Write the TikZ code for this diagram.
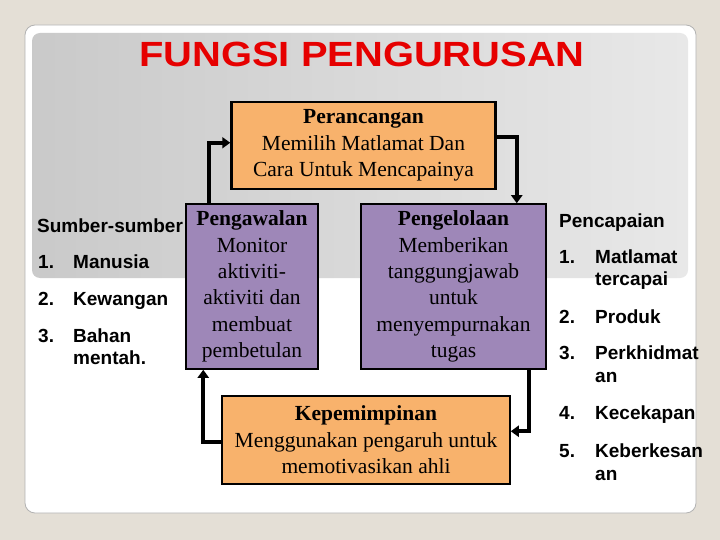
\documentclass[tikz,border=0pt]{standalone}
\usepackage{fontspec}
\setmainfont{Liberation Serif}
\setsansfont{Liberation Sans}
\usepackage{xcolor}
\usepackage{tikz}
\usetikzlibrary{arrows.meta,calc}

\definecolor{pagebeige}{HTML}{E4DFD6}
\definecolor{titlered}{HTML}{E60000}
\definecolor{boxorange}{HTML}{F8B26C}
\definecolor{boxpurple}{HTML}{9E87B8}

\tikzset{
    box/.style={draw=black, line width=1.5pt, align=center, inner sep=0pt,
        font=\fontsize{21.5}{26.4}\selectfont},
    flow/.style={line width=4pt, -{Triangle[length=8pt,width=11pt]}},
    listtext/.style={anchor=base west, inner sep=0pt,
        font=\sffamily\bfseries\fontsize{19}{22}\selectfont}
}

\begin{document}
\begin{tikzpicture}[x=1pt,y=-1pt]
        \useasboundingbox (0,0) rectangle (720,540);
        \fill[pagebeige] (0,0) rectangle (720,540);
        \filldraw[fill=white, draw=gray!60, line width=0.8pt, rounded corners=10pt] (25,25) rectangle (696,513);
        \shade[left color=black!21, right color=black!9, rounded corners=8pt] (32,33) rectangle (688,278);

        \node[text=titlered, font=\sffamily\bfseries\fontsize{35}{40}\selectfont, xscale=1.14] (title) at (362,54) {FUNGSI PENGURUSAN};

        %=== Sumber-sumber ===
        \node[listtext] (src) at (37,233) {Sumber-sumber};
        \foreach \y/\n in {268/1, 305/2, 342/3}
            \node[listtext] (srcnum\n) at (38,\y) {\n.};
        \foreach \y/\t [count=\i] in {268/Manusia, 305/Kewangan, 342/Bahan, 364/mentah.}
            \node[listtext] (srctext\i) at (73,\y) {\t};

        %=== Pencapaian ===
        \node[listtext] (goal) at (559,227) {Pencapaian};
        \foreach \y/\n in {263/1, 323/2, 359/3, 419/4, 457/5}
            \node[listtext] (goalnum\n) at (559,\y) {\n.};
        \foreach \y/\t [count=\i] in {263/Matlamat, 285/tercapai, 323/Produk, 359/Perkhidmat, 382/an, 419/Kecekapan, 457/Keberkesan, 480/an}
            \node[listtext] (goaltext\i) at (595,\y) {\t};

        %=== Kotak ===
        \node[box, fill=boxorange, line width=2.5pt, minimum width=264pt, minimum height=87pt] (plan) at (363.5,145.5)
            {\textbf{Perancangan}\\Memilih Matlamat Dan\\Cara Untuk Mencapainya};
        \node[box, fill=boxpurple, minimum width=132pt, minimum height=165pt] (ctrl) at (252,286.5)
            {\textbf{Pengawalan}\\Monitor\\aktiviti-\\aktiviti dan\\membuat\\pembetulan};
        \node[box, fill=boxpurple, minimum width=185pt, minimum height=165pt] (org) at (453.5,286.5)
            {\textbf{Pengelolaan}\\Memberikan\\tanggungjawab\\untuk\\menyempurnakan\\tugas};
        \node[box, fill=boxorange, minimum width=288pt, minimum height=88pt] (lead) at (366,440)
            {\textbf{Kepemimpinan}\\Menggunakan pengaruh untuk\\memotivasikan ahli};

        %=== Anak panah ===
        \draw[flow] ($(ctrl.north west)+(24,0)$) |- ($(plan.north west)+(0,42)$);
        \draw[flow] ($(plan.north east)+(0,36)$) -| ($(org.north east)+(-30,0)$);
        \draw[flow] ($(org.south east)+(-18,0)$) |- ($(lead.north east)+(0,36)$);
        \draw[flow] ($(lead.north west)+(0,47)$) -| ($(ctrl.south west)+(18,0)$);
    \end{tikzpicture}
\end{document}
